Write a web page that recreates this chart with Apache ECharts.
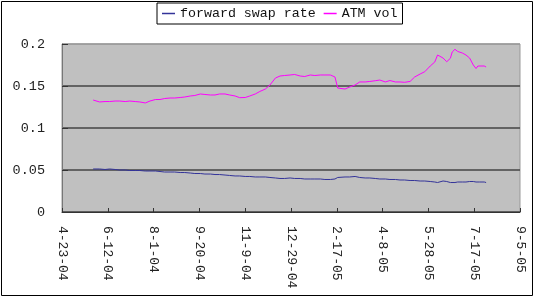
<!DOCTYPE html>
<html>
<head>
<meta charset="utf-8">
<script src="https://cdn.jsdelivr.net/npm/echarts@6/dist/echarts.min.js"></script>
<style>html,body{margin:0;padding:0;background:#fff}#c{width:545px;height:300px}</style>
</head>
<body>
<div id="c"></div>
<script>
var seriesNames = ['forward swap rate', 'ATM vol'];
var axisStart = '2004-04-23';
var axisEnd = '2005-09-05';
var tickDays = 50;
var dates = ['2004-05-27','2004-06-03','2004-06-09','2004-06-14','2004-06-20','2004-06-25','2004-07-01','2004-07-06','2004-07-12','2004-07-17','2004-07-23','2004-07-28','2004-08-03','2004-08-08','2004-08-13','2004-08-19','2004-08-24','2004-08-30','2004-09-04','2004-09-10','2004-09-15','2004-09-21','2004-09-26','2004-10-02','2004-10-07','2004-10-12','2004-10-18','2004-10-23','2004-10-29','2004-11-03','2004-11-09','2004-11-14','2004-11-20','2004-11-25','2004-12-01','2004-12-06','2004-12-12','2004-12-17','2004-12-22','2004-12-28','2005-01-02','2005-01-08','2005-01-13','2005-01-19','2005-01-24','2005-01-30','2005-02-04','2005-02-10','2005-02-15','2005-02-18','2005-02-20','2005-02-26','2005-03-03','2005-03-09','2005-03-14','2005-03-20','2005-03-25','2005-03-31','2005-04-05','2005-04-11','2005-04-16','2005-04-22','2005-04-27','2005-05-02','2005-05-08','2005-05-13','2005-05-19','2005-05-24','2005-05-30','2005-06-04','2005-06-07','2005-06-13','2005-06-17','2005-06-21','2005-06-23','2005-06-26','2005-06-29','2005-07-04','2005-07-08','2005-07-12','2005-07-16','2005-07-19','2005-07-21','2005-07-23','2005-07-28','2005-07-30'];
var forwardSwapRate = [0.0512,0.0512,0.0506,0.0512,0.0506,0.0500,0.0500,0.0494,0.0494,0.0494,0.0488,0.0488,0.0488,0.0482,0.0476,0.0476,0.0476,0.0470,0.0470,0.0464,0.0458,0.0458,0.0452,0.0452,0.0446,0.0446,0.0440,0.0435,0.0429,0.0429,0.0423,0.0423,0.0417,0.0417,0.0417,0.0411,0.0405,0.0399,0.0399,0.0405,0.0399,0.0399,0.0393,0.0393,0.0393,0.0393,0.0387,0.0387,0.0393,0.0411,0.0417,0.0417,0.0417,0.0423,0.0411,0.0405,0.0405,0.0399,0.0393,0.0393,0.0387,0.0387,0.0381,0.0381,0.0375,0.0375,0.0369,0.0369,0.0363,0.0357,0.0351,0.0369,0.0363,0.0351,0.0351,0.0351,0.0357,0.0357,0.0357,0.0363,0.0363,0.0357,0.0357,0.0357,0.0357,0.0351];
var atmVol = [0.1333,0.1310,0.1315,0.1315,0.1321,0.1321,0.1315,0.1321,0.1315,0.1310,0.1298,0.1321,0.1339,0.1339,0.1351,0.1357,0.1357,0.1363,0.1369,0.1381,0.1387,0.1405,0.1399,0.1393,0.1393,0.1405,0.1405,0.1393,0.1381,0.1361,0.1363,0.1381,0.1405,0.1435,0.1464,0.1512,0.1595,0.1619,0.1625,0.1631,0.1637,0.1619,0.1613,0.1631,0.1625,0.1631,0.1631,0.1631,0.1607,0.1476,0.1470,0.1464,0.1488,0.1512,0.1548,0.1548,0.1554,0.1563,0.1571,0.1548,0.1565,0.1548,0.1548,0.1544,0.1554,0.1607,0.1643,0.1670,0.1738,0.1786,0.1869,0.1833,0.1789,0.1830,0.1905,0.1937,0.1911,0.1893,0.1869,0.1833,0.1750,0.1708,0.1738,0.1726,0.1738,0.1726];

function ts(s){var p=s.split('-');return Date.UTC(+p[0],+p[1]-1,+p[2]);}
function pairs(vals){return dates.map(function(d,i){return [ts(d),vals[i]];});}
var DAY = 86400000;
var monoFont = '"Liberation Mono", "DejaVu Sans Mono", monospace';

var chart = echarts.init(document.getElementById('c'), null, {renderer:'canvas'});
chart.setOption({
  animation: false,
  backgroundColor: '#fff',
  graphic: [{
    type: 'rect', shape: {x: 1.5, y: 1.5, width: 531, height: 294},
    style: {fill: 'none', stroke: '#000', lineWidth: 1}, z: -1
  }],
  legend: {
    left: 157, top: 3,
    padding: [4, 5, 4, 5],
    borderColor: '#000', borderWidth: 1, backgroundColor: '#fff',
    itemGap: 8, itemWidth: 13, itemHeight: 1.5, icon: 'rect',
    textStyle: {fontFamily: monoFont, fontSize: 13.3, color: '#111'},
    data: seriesNames
  },
  grid: {
    left: 62, right: 25, top: 44, bottom: 88,
    show: true, backgroundColor: '#C0C0C0', borderColor: '#999', borderWidth: 1
  },
  xAxis: {
    type: 'value',
    min: ts(axisStart), max: ts(axisEnd), interval: tickDays * DAY,
    axisLine: {show: true, onZero: false, lineStyle: {color: '#333', width: 1}},
    axisTick: {show: true, inside: true, length: 4, lineStyle: {color: '#333'}},
    splitLine: {show: false},
    axisLabel: {
      rotate: -90, margin: 14, color: '#222',
      fontFamily: monoFont, fontSize: 13,
      showMinLabel: true, showMaxLabel: true,
      formatter: function(v){
        var d = new Date(v);
        var yy = String(d.getUTCFullYear() % 100); if (yy.length < 2) yy = '0' + yy;
        return (d.getUTCMonth()+1) + '-' + d.getUTCDate() + '-' + yy;
      }
    }
  },
  yAxis: {
    type: 'value', min: 0, max: 0.2, interval: 0.05,
    axisLine: {show: true, lineStyle: {color: '#777', width: 1}},
    axisTick: {show: true, inside: true, length: 6, lineStyle: {color: '#333'}},
    splitLine: {show: true, lineStyle: {color: ['#444','#444','#444','#444','#999'], width: 1.5}},
    axisLabel: {margin: 17, color: '#222', fontFamily: monoFont, fontSize: 13.5}
  },
  series: [
    {name: seriesNames[0], type: 'line', data: pairs(forwardSwapRate), showSymbol: false, symbol: 'none',
     lineStyle: {color: '#333399', width: 1}, itemStyle: {color: '#333399'}},
    {name: seriesNames[1], type: 'line', data: pairs(atmVol), showSymbol: false, symbol: 'none',
     lineStyle: {color: '#FF00FF', width: 1}, itemStyle: {color: '#FF00FF'}}
  ]
});
</script>
</body>
</html>
